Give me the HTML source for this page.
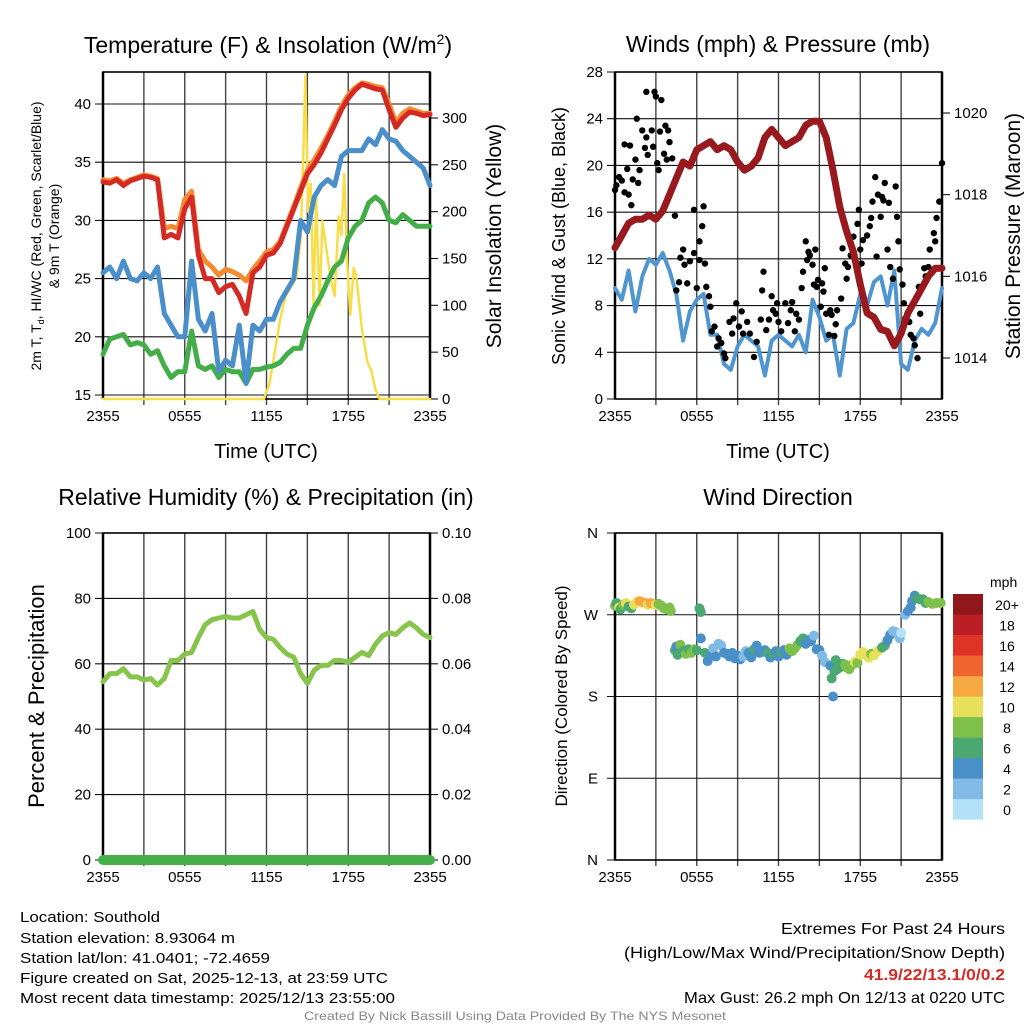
<!DOCTYPE html>
<html><head><meta charset="utf-8">
<style>
html,body{margin:0;padding:0;background:#fff;}
svg{display:block;font-family:"Liberation Sans",sans-serif;}
</style></head>
<body>
<svg id="chart" xmlns="http://www.w3.org/2000/svg" width="1024" height="1024" viewBox="0 0 1024 1024">
<rect width="1024" height="1024" fill="#fff"/>
<text x="268" y="53" font-size="23" text-anchor="middle">Temperature (F) &amp; Insolation (W/m<tspan font-size="14" dy="-9">2</tspan><tspan dy="9">)</tspan></text>
<text x="778" y="52" font-size="23" text-anchor="middle">Winds (mph) &amp; Pressure (mb)</text>
<text x="266" y="505" font-size="23" text-anchor="middle">Relative Humidity (%) &amp; Precipitation (in)</text>
<text x="778" y="505" font-size="23" text-anchor="middle">Wind Direction</text>

<text x="266" y="458" font-size="20" text-anchor="middle">Time (UTC)</text>
<text x="778" y="458" font-size="20" text-anchor="middle">Time (UTC)</text>

<text transform="translate(41,236) rotate(-90)" font-size="14" text-anchor="middle">2m T, T<tspan font-size="9" dy="3">d</tspan><tspan dy="-3">, HI/WC (Red, Green, Scarlet/Blue)</tspan></text>
<text transform="translate(59,236) rotate(-90)" font-size="14" text-anchor="middle">&amp; 9m T (Orange)</text>
<text transform="translate(501,236) rotate(-90)" font-size="21" text-anchor="middle">Solar Insolation (Yellow)</text>
<text transform="translate(565,236) rotate(-90)" font-size="18" text-anchor="middle">Sonic Wind &amp; Gust (Blue, Black)</text>
<text transform="translate(1020,236) rotate(-90)" font-size="21" text-anchor="middle">Station Pressure (Maroon)</text>
<text transform="translate(44,696) rotate(-90)" font-size="22" text-anchor="middle">Percent &amp; Precipitation</text>
<text transform="translate(567,696) rotate(-90)" font-size="17" text-anchor="middle">Direction (Colored By Speed)</text>

<g id="p1"></g>
<g id="p2"></g>
<g id="p3"></g>
<g id="p4"></g>
<g id="cbar"></g>

<g font-size="15">
<text x="20" y="922" textLength="140" lengthAdjust="spacingAndGlyphs">Location: Southold</text>
<text x="20" y="943" textLength="215" lengthAdjust="spacingAndGlyphs">Station elevation: 8.93064 m</text>
<text x="20" y="963" textLength="250" lengthAdjust="spacingAndGlyphs">Station lat/lon: 41.0401; -72.4659</text>
<text x="20" y="983" textLength="368" lengthAdjust="spacingAndGlyphs">Figure created on Sat, 2025-12-13, at 23:59 UTC</text>
<text x="20" y="1003" textLength="375" lengthAdjust="spacingAndGlyphs">Most recent data timestamp: 2025/12/13 23:55:00</text>
</g>
<g font-size="16">
<text x="781" y="934" textLength="224" lengthAdjust="spacingAndGlyphs">Extremes For Past 24 Hours</text>
<text x="624" y="958" textLength="381" lengthAdjust="spacingAndGlyphs">(High/Low/Max Wind/Precipitation/Snow Depth)</text>
<text x="864" y="980" textLength="141" lengthAdjust="spacingAndGlyphs" fill="#d42a25" font-weight="bold">41.9/22/13.1/0/0.2</text>
<text x="684" y="1003" textLength="321" lengthAdjust="spacingAndGlyphs">Max Gust: 26.2 mph On 12/13 at 0220 UTC</text>
</g>
<text x="304" y="1020" font-size="12" fill="#888" textLength="422" lengthAdjust="spacingAndGlyphs">Created By Nick Bassill Using Data Provided By The NYS Mesonet</text>
</svg>
<script>
// ---- data (half-hourly from 2355 UTC, index*0.5 h) ----
const xTickLabels = ["2355","0555","1155","1755","2355"];
const tempTicks = [15,20,25,30,35,40];
const solarTicks = [0,50,100,150,200,250,300];
const windTicks = [0,4,8,12,16,20,24,28];
const pressTicks = [1014,1016,1018,1020];
const rhTicks = [0,20,40,60,80,100];
const precipTickLabels = ["0.00","0.02","0.04","0.06","0.08","0.10"];
const dirTickLabels = ["N","E","S","W","N"];
const dirTicks = [0,90,180,270,360];
const speedBinLabels = ["0","2","4","6","8","10","12","14","16","18","20+"];

const tempRed = [33.3,33.2,33.5,33.0,33.4,33.6,33.8,33.7,33.5,28.5,28.8,28.5,31,32,27,25,25,23.8,24.3,24.5,23.5,22,25.5,26,27,27.2,28,29.5,31,32.5,34,34.8,35.8,37,38.2,39.5,40.5,41.2,41.7,41.5,41.3,41.2,39.5,38,38.8,39.3,39.2,39,39.1];
const temp9m = [33.5,33.4,33.6,33.2,33.5,33.7,33.9,33.8,33.6,29.3,29.5,29.3,31.8,32.5,27.5,26.5,26,25.3,25.8,25.6,25.3,24.8,25.8,26.5,27.3,27.5,28.2,29.7,31.2,32.8,34.3,35.2,36.2,37.3,38.5,39.8,40.8,41.4,41.8,41.7,41.5,41.4,40,38.4,39.2,39.6,39.4,39.2,39.2];
const dewBlue = [25.5,26,25,26.5,25,24.8,25.5,25,26,22,21,20,20,26.5,21.5,20.5,22,17,18,17.5,21,16,21,20.5,21.5,21.5,23,24,25,30,29,32,33,33.5,33,35.5,36,36,36,37,36.5,37.8,37,36.8,36,35.5,35,34.5,33];
const heatGreen = [18.5,19.8,20,20.2,19.3,19.5,19.3,18.5,18.8,17.5,16.5,17,17,20.5,17.5,17.2,17.5,16.5,17.2,17,17,16,17.2,17.2,17.4,17.5,17.8,18.5,19,19,21,22.5,23.5,24.8,26,26.5,28.5,29.5,30,31.5,32,31.5,30,29.8,30.5,30,29.5,29.5,29.5];
const solarHours = [0,11.8,12.2,12.6,13,13.4,13.8,14.2,14.5,14.7,14.85,15.05,15.25,15.45,15.65,15.9,16.1,16.4,16.7,17,17.3,17.5,17.7,17.9,18.15,18.4,18.6,19,19.4,19.7,20,20.3,24];
const solarVals = [0,0,15,50,85,110,120,130,170,260,345,200,230,100,215,100,190,160,130,110,195,175,240,150,90,140,130,75,40,30,10,0,0];

const windSpeed = [9.5,8.5,11,7.5,10.5,12,11.5,12.5,11,9,5,7.5,8.5,9,5.5,5.5,3,2.5,4.5,5.5,5,4.5,2,5,5.5,5,4.5,5.5,4,8.5,7,5,5.5,2,6,6.5,9,8,10,10.5,8,11,3,2.5,5,6,5.5,6.5,9.5];
const pressure = [1016.7,1017.0,1017.3,1017.4,1017.4,1017.5,1017.4,1017.6,1018.0,1018.4,1018.8,1018.7,1019.1,1019.2,1019.3,1019.1,1019.2,1019.1,1018.8,1018.6,1018.7,1018.9,1019.4,1019.6,1019.4,1019.2,1019.3,1019.4,1019.7,1019.8,1019.8,1019.4,1018.6,1017.7,1017.1,1016.6,1015.8,1015.1,1015.0,1014.7,1014.65,1014.3,1014.6,1015.1,1015.4,1015.7,1016.0,1016.2,1016.2];
const gustHours = [0,0.1,0.3,0.5,0.7,0.7,0.9,1,1.1,1.2,1.3,1.5,1.6,1.7,1.8,2,2.2,2.3,2.3,2.4,2.7,2.8,2.9,3,3.1,3.2,3.3,3.4,3.6,3.7,3.8,3.9,4,4.2,4.4,4.5,4.7,4.8,5,5.1,5.3,5.5,5.8,5.8,6,6.2,6.2,6.4,6.5,6.6,6.7,6.9,7,7.1,7.3,7.5,7.6,7.8,8,8.1,8.4,8.6,8.7,8.9,9.1,9.3,9.4,9.7,9.9,10.2,10.4,10.7,10.8,10.9,11.1,11.3,11.5,11.6,11.8,11.9,12,12.2,12.5,12.7,12.9,13,13.2,13.3,13.5,13.7,13.8,14,14.1,14.2,14.3,14.5,14.6,14.7,14.8,14.9,15.1,15.2,15.3,15.4,15.5,15.7,15.8,15.9,16.1,16.2,16.3,16.6,16.7,16.9,17,17.1,17.3,17.5,17.8,17.9,18,18.1,18.2,18.5,18.7,18.8,18.9,19.1,19.2,19.3,19.5,19.6,19.7,19.8,20,20.1,20.2,20.4,20.6,20.7,20.8,20.9,21.1,21.2,21.3,21.6,21.7,21.9,22,22.2,22.3,22.4,22.7,22.8,23,23.1,23.4,23.5,23.6,23.8,24];
const gustVals = [17.9,18.3,19,18.7,17.7,21.8,19.7,17.5,21.7,16.6,18.8,20.5,24,18.5,19.6,23,21.5,26.3,22.4,20.9,23,21.6,26.3,25.9,20.2,19.6,22.9,25.6,21,23.4,20.5,23,22,20.6,15.7,9.3,10,12.1,12.8,11.5,9.9,11.8,12.5,16.2,9.5,11.9,13.5,14.8,16.5,11.6,9.6,8.8,7.9,5.8,6.2,4.5,5.2,4.8,3.9,3.5,6.6,5.6,6.9,8.2,6.2,7.5,5.6,6.6,5.6,3.6,4.9,6.8,9.3,10.9,5.9,6.8,8.8,7.6,7.3,8.2,6.6,5.8,8.2,6.5,7.6,8.3,5.8,7.3,6.8,9.5,10.9,13.5,11.9,12.6,12.3,11.5,9.8,12.8,9.6,10.2,7.9,9.9,9.2,11.2,7.3,5.5,7.6,7.2,5.4,6.4,7.6,8.6,12.9,11.6,10.3,11.3,12.3,13.9,15,16.2,12.8,11.6,13.6,14,14.8,15.5,16.9,19,12.2,17.5,15.6,17.3,17,18.5,12.8,16.8,11.3,10.3,18.2,15.6,13.5,11.1,9.8,8.2,6.9,6.6,5.5,5.2,4.6,3.5,9.6,7.3,11.2,10.5,11.3,12.8,14.2,13.5,15.5,16.9,20.2];

const relHum = [54.5,57,57,58.5,56,56,55,55.5,53.5,55.5,61,61,63,63.5,68,72,73.5,74,74.5,74,74,75,76,70.5,68,67.5,65,63,62,57,54,58,59.5,59.5,61,61,60.5,62,63.5,62.5,66,68.5,69.5,69,71,72.5,71,69,68];
const precip = [0,0,0,0,0,0,0,0,0,0,0,0,0,0,0,0,0,0,0,0,0,0,0,0,0,0,0,0,0,0,0,0,0,0,0,0,0,0,0,0,0,0,0,0,0,0,0,0,0];

const dirHours = [0,0.1,0.3,0.4,0.6,0.8,1,1.2,1.4,1.6,1.8,2,2.2,2.4,2.6,2.8,3,3.2,3.4,3.6,3.8,4,4.1,6.2,6.3,4.4,4.5,4.6,4.8,5,5.2,5.4,5.6,5.8,6,6.3,6.6,6.8,7,7.2,7.4,7.6,7.8,8,8.2,8.4,8.6,8.8,9,9.2,9.4,9.6,9.8,10,10.2,10.4,10.6,10.8,11,11.2,11.4,11.6,11.8,12,12.2,12.4,12.6,12.8,13,13.2,13.4,13.6,13.8,14,14.2,14.4,14.6,14.8,15,15.2,15.4,15.8,15.9,16,16.1,16.2,16.3,16.5,16.7,16.9,17,17.2,17.4,17.6,17.8,18,18.2,18.4,18.6,18.8,19,19.3,19.6,19.8,20,20.2,20.4,20.6,20.9,21,21.3,21.5,21.7,21.8,22,22.2,22.4,22.6,22.8,23,23.3,23.6,23.9];
const dirDeg = [280,283,278,276,281,283,279,277,281,284,285,284,283,281,283,282,281,282,280,277,276,278,274,277,273,231,235,226,237,230,227,232,228,232,231,244,228,219,225,233,224,238,236,228,227,224,228,222,225,221,224,230,228,223,232,236,228,229,231,228,223,227,230,224,229,231,226,233,230,233,237,241,244,238,242,241,247,232,231,225,218,214,200,180,208,220,210,212,216,215,212,210,215,218,217,226,229,226,223,227,225,230,234,236,242,248,252,251,244,250,270,274,278,285,291,288,287,287,283,284,282,283,283];
const dirSpeed = [9,7,10,7,8,10,7,6,10,10,12,12,12,10,12,12,10,8,8,8,8,8,8,6,6,6,4,6,8,6,8,6,8,8,6,4,6,4,4,2,4,2,2,4,4,4,4,4,4,4,2,2,4,4,6,4,4,4,4,6,4,6,4,4,6,4,4,8,8,8,8,6,6,4,4,4,2,4,4,2,2,4,6,4,6,6,6,6,6,8,8,8,8,10,8,10,10,10,10,8,10,10,6,6,4,4,2,2,2,0,2,4,4,4,4,6,6,6,6,8,8,8,8];
const speedColors = ["#b3e1f7","#7fbbe5","#4a90c8","#4aa870","#7ec04a","#e7e05a","#f6a842","#ef6530","#de3428","#bd1d25","#90171a"];

// ---- drawing ----
const NS = "http://www.w3.org/2000/svg";
function mk(parent, tag, attrs) {
  const e = document.createElementNS(NS, tag);
  for (const k in attrs) e.setAttribute(k, attrs[k]);
  parent.appendChild(e);
  return e;
}
function linScale(d0, d1, r0, r1) { return v => r0 + (v - d0) * (r1 - r0) / (d1 - d0); }

const X0L = 103, X1L = 430, X0R = 615, X1R = 942;
function frame(g, x0, x1, y0, y1, leftVals, leftLabels, ly, rightVals, rightLabels, ry, leftAnchorX) {
  for (let k = 1; k < 8; k++) {
    const x = x0 + k * (x1 - x0) / 8;
    const gl = mk(g, "line", {x1: x, x2: x, y1: y0, y2: y1 + 6, stroke: "#444", "stroke-width": 1.4});
    
    
  }
  for (let k = 0; k <= 8; k += 2) {
    const x = x0 + k * (x1 - x0) / 8;
    const t = mk(g, "text", {x: x, y: y1 + 22, "font-size": 15, "text-anchor": "middle"});
    t.textContent = xTickLabels[k / 2];
    
    
  }
  leftVals.forEach((v, i) => {
    const y = ly(v);
    const l = mk(g, "line", {x1: x0 - 8, x2: x1, y1: y, y2: y, stroke: "#111", "stroke-width": 1.1});
    
    
    const t = mk(g, "text", {x: leftAnchorX || x0 - 12, y: y + 5, "font-size": 15, "text-anchor": "end"});
    t.textContent = leftLabels[i];
    
    
  });
  if (rightVals) rightVals.forEach((v, i) => {
    const y = ry(v);
    const l = mk(g, "line", {x1: x1, x2: x1 + 8, y1: y, y2: y, stroke: "#111", "stroke-width": 1.1});
    
    
    const t = mk(g, "text", {x: x1 + 12, y: y + 5, "font-size": 15});
    t.textContent = rightLabels[i];
    
    
  });
  const r = mk(g, "rect", {x: x0, y: y0, width: x1 - x0, height: y1 - y0, fill: "none", stroke: "#000", "stroke-width": 1.6});
  
  
  mk(g, "line", {x1: x0, x2: x0, y1: y0, y2: y1, stroke: "#000", "stroke-width": 2.5});
  mk(g, "line", {x1: x1, x2: x1, y1: y0, y2: y1, stroke: "#000", "stroke-width": 2.5});
}
function seriesPath(g, hours, vals, xs, ys, color, w, name) {
  let d = "";
  vals.forEach((v, i) => { d += (i ? "L" : "M") + xs(hours(i)).toFixed(1) + "," + ys(v).toFixed(1); });
  const p = mk(g, "path", {d: d, fill: "none", stroke: color, "stroke-width": w, "stroke-linejoin": "round", "stroke-linecap": "round"});
  
  
  return p;
}
const half = i => i * 0.5;

// Panel 1
(function(){
  const g = document.getElementById("p1");
  const xs = linScale(0, 24, X0L, X1L);
  const ty = linScale(15, 40, 395, 104);
  const sy = linScale(0, 300, 399, 118);
  frame(g, X0L, X1L, 72, 399, tempTicks, tempTicks.map(String), ty, solarTicks, solarTicks.map(String), sy);
  seriesPath(g, i => solarHours[i], solarVals, xs, sy, "#f7de48", 2.5, "solar-insolation-line");
  seriesPath(g, half, heatGreen, xs, ty, "#43ad48", 5, "green-temperature-line");
  seriesPath(g, half, dewBlue, xs, ty, "#4a8fca", 5, "dewpoint-line");
  seriesPath(g, half, temp9m, xs, ty, "#f58a30", 5, "temp-9m-line");
  seriesPath(g, half, tempRed, xs, ty, "#d42a25", 5, "temp-2m-line");
})();

// Panel 2
(function(){
  const g = document.getElementById("p2");
  const xs = linScale(0, 24, X0R, X1R);
  const wy = linScale(0, 28, 399, 72);
  const py = linScale(1014, 1020, 358, 113);
  frame(g, X0R, X1R, 72, 399, windTicks, windTicks.map(String), wy, pressTicks, pressTicks.map(String), py);
  seriesPath(g, half, windSpeed, xs, wy, "#4f96d0", 4, "sonic-wind-line");
  gustVals.forEach((v, i) => {
    const c = mk(g, "circle", {cx: xs(gustHours[i]), cy: wy(v), r: 3.2, fill: "#000"});
    
    
  });
  seriesPath(g, half, pressure, xs, py, "#981a1e", 7, "pressure-line");
})();

// Panel 3
(function(){
  const g = document.getElementById("p3");
  const xs = linScale(0, 24, X0L, X1L);
  const hy = linScale(0, 100, 860, 533);
  const py = linScale(0, 0.1, 860, 533);
  frame(g, X0L, X1L, 533, 860, rhTicks, rhTicks.map(String), hy, [0,0.02,0.04,0.06,0.08,0.1], precipTickLabels, py);
  seriesPath(g, half, relHum, xs, hy, "#86c44c", 5, "relative-humidity-line");
  seriesPath(g, half, precip, xs, py, "#45b04a", 10, "precipitation-line");
})();

// Panel 4
(function(){
  const g = document.getElementById("p4");
  const xs = linScale(0, 24, X0R, X1R);
  const dy = linScale(0, 360, 860, 533);
  frame(g, X0R, X1R, 533, 860, dirTicks, dirTickLabels, dy, null, null, null, 598);
  dirDeg.forEach((v, i) => {
    const bin = Math.min(10, Math.floor(dirSpeed[i] / 2));
    const c = mk(g, "circle", {cx: xs(dirHours[i]), cy: dy(v), r: 5, fill: speedColors[bin]});
    
    
  });
  const cb = document.getElementById("cbar");
  const t = mk(cb, "text", {x: 990, y: 587, "font-size": 14});
  t.textContent = "mph";
  
  
  for (let k = 0; k < 11; k++) {
    const y = 594 + (10 - k) * 20.5;
    const r = mk(cb, "rect", {x: 953, y: y, width: 30, height: 20.6, fill: speedColors[k]});
    
    
    const l = mk(cb, "text", {x: 1007, y: y + 16, "font-size": 14, "text-anchor": "middle"});
    l.textContent = speedBinLabels[k];
    
    
  }
})();
</script>
</body></html>
